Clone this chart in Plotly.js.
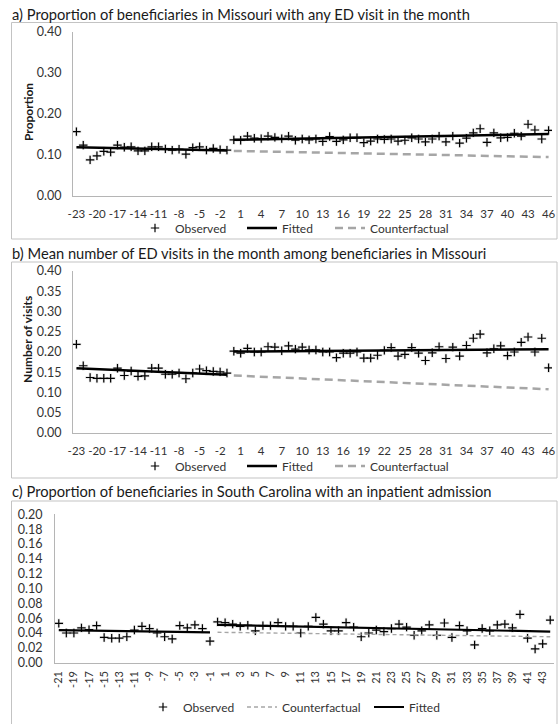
<!DOCTYPE html>
<html><head><meta charset="utf-8">
<script src="https://cdn.plot.ly/plotly-3.0.1.min.js"></script>
<style>html,body{margin:0;padding:0;background:#fff;}#chart{width:558px;height:724px;}</style>
</head><body><div id="chart"></div>
<script>
// ---------- data ----------
const monthsPreAB = [-23,-22,-21,-20,-19,-18,-17,-16,-15,-14,-13,-12,-11,-10,-9,-8,-7,-6,-5,-4,-3,-2,-1];
const monthsPostAB = [0,1,2,3,4,5,6,7,8,9,10,11,12,13,14,15,16,17,18,19,20,21,22,23,24,25,26,27,28,29,30,31,32,33,34,35,36,37,38,39,40,41,42,43,44,45,46];
const obsPreA = [0.157,0.124,0.088,0.098,0.109,0.107,0.124,0.119,0.120,0.110,0.110,0.120,0.120,0.115,0.112,0.114,0.102,0.118,0.120,0.112,0.116,0.113,0.112];
const obsPostA = [0.137,0.136,0.146,0.141,0.140,0.146,0.143,0.140,0.146,0.136,0.139,0.137,0.139,0.133,0.145,0.133,0.137,0.142,0.142,0.130,0.134,0.139,0.138,0.139,0.134,0.136,0.142,0.139,0.132,0.139,0.146,0.132,0.146,0.129,0.141,0.154,0.164,0.131,0.154,0.142,0.143,0.153,0.146,0.175,0.161,0.139,0.160];
const fitPreAx = [-23,-1], fitPreA = [0.119,0.111];
const fitPostAx = [0,46], fitPostA = [0.137,0.151];
const cfAx = [0,46], cfA = [0.110,0.095];

const obsPreB = [0.219,0.166,0.137,0.135,0.135,0.135,0.160,0.142,0.153,0.140,0.141,0.160,0.160,0.145,0.145,0.148,0.134,0.148,0.158,0.154,0.152,0.151,0.148];
const obsPostB = [0.202,0.197,0.209,0.200,0.200,0.213,0.212,0.203,0.215,0.207,0.212,0.205,0.205,0.200,0.200,0.186,0.197,0.197,0.200,0.185,0.185,0.192,0.204,0.211,0.190,0.194,0.211,0.197,0.179,0.198,0.213,0.184,0.212,0.190,0.216,0.234,0.244,0.198,0.208,0.215,0.191,0.200,0.224,0.237,0.200,0.234,0.161];
const fitPreBx = [-23,-1], fitPreB = [0.160,0.144];
const fitPostBx = [0,46], fitPostB = [0.201,0.207];
const cfBx = [0,46], cfB = [0.142,0.108];

const monthsPreC = [-21,-20,-19,-18,-17,-16,-15,-14,-13,-12,-11,-10,-9,-8,-7,-6,-5,-4,-3,-2,-1];
const monthsPostC = [0,1,2,3,4,5,6,7,8,9,10,11,12,13,14,15,16,17,18,19,20,21,22,23,24,25,26,27,28,29,30,31,32,33,34,35,36,37,38,39,40,41,42,43,44];
const obsPreC = [0.053,0.040,0.040,0.047,0.0445,0.050,0.034,0.033,0.033,0.035,0.044,0.049,0.046,0.040,0.035,0.032,0.050,0.047,0.051,0.046,0.029];
const obsPostC = [0.055,0.054,0.052,0.049,0.0505,0.043,0.050,0.050,0.054,0.049,0.049,0.040,0.049,0.061,0.052,0.043,0.043,0.054,0.048,0.035,0.040,0.044,0.042,0.046,0.052,0.048,0.037,0.043,0.051,0.037,0.0535,0.034,0.050,0.043,0.024,0.046,0.043,0.051,0.052,0.047,0.065,0.033,0.0185,0.0255,0.0575];
const fitPreCx = [-21,-1], fitPreC = [0.044,0.041];
const fitPostCx = [0,44], fitPostC = [0.051,0.042];
const cfCx = [0,44], cfC = [0.041,0.035];

const xTicksAB = [-23,-20,-17,-14,-11,-8,-5,-2,1,4,7,10,13,16,19,22,25,28,31,34,37,40,43,46];
const xTicksC = [-21,-19,-17,-15,-13,-11,-9,-7,-5,-3,-1,1,3,5,7,9,11,13,15,17,19,21,23,25,27,29,31,33,35,37,39,41,43];
const yTicksA = [0,0.1,0.2,0.3,0.4];
const yTicksB = [0,0.05,0.1,0.15,0.2,0.25,0.3,0.35,0.4];
const yTicksC = [0,0.02,0.04,0.06,0.08,0.1,0.12,0.14,0.16,0.18,0.2];
const titles = ["a) Proportion of beneficiaries in Missouri with any ED visit in the month",
  "b) Mean number of ED visits in the month among beneficiaries in Missouri",
  "c) Proportion of beneficiaries in South Carolina with an inpatient admission"];

// ---------- helpers ----------
const W = 558, H = 724;
const px = x => x / W, py = y => 1 - y / H;
const FONT = 'Lato, "Open Sans", sans-serif';
const AX = '#b5b5b5';
const TXT = '#333333';

function obsTraces(x, y, xa, ya, lg, show) {
  return [
    {type:'scatter', mode:'markers', x:x, y:y, xaxis:xa, yaxis:ya, showlegend:false, hoverinfo:'skip',
     marker:{symbol:'cross-thin', size:7, line:{width:2.6, color:'rgba(0,0,0,0.10)'}, color:'rgba(0,0,0,0.10)'}},
    {type:'scatter', mode:'markers', name:'Observed', x:x, y:y, xaxis:xa, yaxis:ya, legend:lg, showlegend:show,
     marker:{symbol:'cross-thin', size:6, line:{width:1.2, color:'#000'}, color:'#000'}}
  ];
}
function lineTrace(name, x, y, xa, ya, lg, show, style) {
  return {type:'scatter', mode:'lines', name:name, x:x, y:y, xaxis:xa, yaxis:ya, legend:lg, showlegend:show, line:style};
}
const fitStyleAB = {color:'#000', width:2.5};
const cfStyleAB = {color:'#a6a6a6', width:2.5, dash:'8px,5px'};
const fitStyleC = {color:'#000', width:2.2};
const cfStyleC = {color:'#a6a6a6', width:1.4, dash:'4px,3px'};

const data = [];
// panel a
data.push(...obsTraces(monthsPreAB, obsPreA, 'x', 'y', 'legend', false));
data.push(...obsTraces(monthsPostAB, obsPostA, 'x', 'y', 'legend', true));
data.push(lineTrace('Fitted', fitPreAx, fitPreA, 'x', 'y', 'legend2', false, fitStyleAB));
data.push(lineTrace('Fitted', fitPostAx, fitPostA, 'x', 'y', 'legend2', true, fitStyleAB));
data.push(lineTrace('Counterfactual', cfAx, cfA, 'x', 'y', 'legend3', true, cfStyleAB));
// panel b
data.push(...obsTraces(monthsPreAB, obsPreB, 'x2', 'y2', 'legend4', false));
data.push(...obsTraces(monthsPostAB, obsPostB, 'x2', 'y2', 'legend4', true));
data.push(lineTrace('Fitted', fitPreBx, fitPreB, 'x2', 'y2', 'legend5', false, fitStyleAB));
data.push(lineTrace('Fitted', fitPostBx, fitPostB, 'x2', 'y2', 'legend5', true, fitStyleAB));
data.push(lineTrace('Counterfactual', cfBx, cfB, 'x2', 'y2', 'legend6', true, cfStyleAB));
// panel c
data.push(...obsTraces(monthsPreC, obsPreC, 'x3', 'y3', 'legend7', false));
data.push(...obsTraces(monthsPostC, obsPostC, 'x3', 'y3', 'legend7', true));
data.push(lineTrace('Counterfactual', cfCx, cfC, 'x3', 'y3', 'legend8', true, cfStyleC));
data.push(lineTrace('Fitted', fitPreCx, fitPreC, 'x3', 'y3', 'legend9', false, fitStyleC));
data.push(lineTrace('Fitted', fitPostCx, fitPostC, 'x3', 'y3', 'legend9', true, fitStyleC));

function xAxis(domain, range, ticks, anchor, extra) {
  return Object.assign({domain:domain, range:range, anchor:anchor, showline:true, linecolor:AX, linewidth:1,
    showgrid:false, zeroline:false, ticks:'', tickvals:ticks, ticktext:ticks.map(String),
    tickfont:{family:FONT, size:11.5, color:TXT}, ticklabelstandoff:7, fixedrange:true}, extra||{});
}
function yAxis(domain, range, ticks, anchor, extra) {
  return Object.assign({domain:domain, range:range, anchor:anchor, showline:true, linecolor:AX, linewidth:1,
    showgrid:false, zeroline:false, ticks:'', tickvals:ticks, tickformat:'.2f',
    tickfont:{family:FONT, size:12.5, color:TXT}, ticklabelstandoff:8, fixedrange:true}, extra||{});
}
function legendAt(xp, yp) {
  return {x:px(xp), y:py(yp), xref:'paper', yref:'paper', xanchor:'left', yanchor:'middle', orientation:'h',
    bgcolor:'rgba(0,0,0,0)', borderwidth:0, font:{family:FONT, size:12, color:TXT}, tracegroupgap:0};
}
function box(x0, y0, x1, y1) {
  return {type:'rect', xref:'paper', yref:'paper', x0:px(x0), x1:px(x1), y0:py(y0), y1:py(y1),
    line:{color:'#c3c3c3', width:1}, fillcolor:'rgba(0,0,0,0)'};
}
function titleAnn(text, yp) {
  return {text:text, xref:'paper', yref:'paper', x:px(10), y:py(yp), xanchor:'left', yanchor:'middle',
    showarrow:false, font:{family:FONT, size:14.7, color:'#1a1a1a'}};
}
function yTitleAnn(text, xp, yp) {
  return {text:'<b>'+text+'</b>', xref:'paper', yref:'paper', x:px(xp), y:py(yp), xanchor:'center', yanchor:'middle',
    textangle:-90, showarrow:false, font:{family:FONT, size:12, color:'#1a1a1a'}};
}

const layout = {
  width:W, height:H, margin:{l:0, r:0, t:0, b:0}, paper_bgcolor:'#fff', plot_bgcolor:'rgba(0,0,0,0)',
  showlegend:true, hovermode:false,
  xaxis: xAxis([px(73), px(552)], [-23.5, 46.5], xTicksAB, 'y'),
  yaxis: yAxis([py(196), py(32)], [0, 0.4], yTicksA, 'x'),
  xaxis2: xAxis([px(73), px(552)], [-23.5, 46.5], xTicksAB, 'y2'),
  yaxis2: yAxis([py(433), py(271)], [0, 0.4], yTicksB, 'x2'),
  xaxis3: xAxis([px(55), px(554)], [-21.5, 44.5], xTicksC, 'y3', {tickangle:-90, ticklabelstandoff:3, tickfont:{family:FONT, size:11, color:TXT}}),
  yaxis3: yAxis([py(662.7), py(514.3)], [0, 0.2], yTicksC, 'x3', {ticklabelstandoff:9}),
  legend: legendAt(135, 228), legend2: legendAt(242, 228), legend3: legendAt(330, 228),
  legend4: legendAt(135, 466), legend5: legendAt(242, 466), legend6: legendAt(330, 466),
  legend7: legendAt(143, 707), legend8: legendAt(242, 707), legend9: legendAt(369, 707),
  shapes:[box(11.5, 22.5, 557, 239), box(11.5, 262, 557, 478), box(11.5, 501, 557, 740)],
  annotations:[titleAnn(titles[0], 14), titleAnn(titles[1], 253), titleAnn(titles[2], 491),
    yTitleAnn('Proportion', 28, 112), yTitleAnn('Number of visits', 27, 340)]
};
Plotly.newPlot('chart', data, layout, {staticPlot:true, displayModeBar:false});
</script></body></html>
